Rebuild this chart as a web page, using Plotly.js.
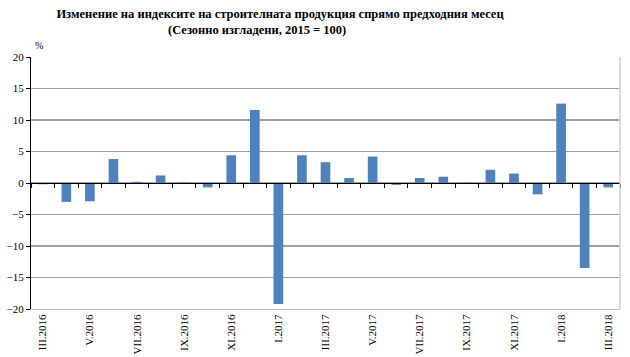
<!DOCTYPE html>
<html><head><meta charset="utf-8">
<script src="https://cdn.plot.ly/plotly-3.0.1.min.js"></script>
<style>body{margin:0;background:#fff}#c{width:630px;height:357px}</style>
</head><body><div id="c"></div>
<script>
const months = ["III.2016","IV.2016","V.2016","VI.2016","VII.2016","VIII.2016","IX.2016","X.2016","XI.2016","XII.2016",
"I.2017","II.2017","III.2017","IV.2017","V.2017","VI.2017","VII.2017","VIII.2017","IX.2017","X.2017","XI.2017","XII.2017",
"I.2018","II.2018","III.2018"];
const changes = [-0.2,-3.0,-2.9,3.8,0.2,1.2,0.1,-0.7,4.4,11.6,-19.2,4.4,3.3,0.8,4.2,-0.3,0.8,1.0,0.05,2.1,1.5,-1.8,12.6,-13.5,-0.7];
const tickLabels = ["III.2016","V.2016","VII.2016","IX.2016","XI.2016","I.2017","III.2017","V.2017","VII.2017","IX.2017","XI.2017","I.2018","III.2018"];
const titleLine1 = "Изменение на индексите на строителната продукция спрямо предходния месец";
const titleLine2 = "(Сезонно изгладени, 2015 = 100)";

const serif = "'Times New Roman', 'Liberation Serif', 'DejaVu Serif', serif";
const nCat = months.length;
const traces = [
  {type:"bar", x:months, y:changes, marker:{color:"#4F81BD"}, width:0.41, hoverinfo:"x+y"},
  {type:"scatter", mode:"markers", x:months, y:months.map(()=>null), xaxis:"x2", yaxis:"y", hoverinfo:"skip", showlegend:false}
];
const layout = {
  width:630, height:357,
  margin:{l:31, r:10, t:57, b:48},
  paper_bgcolor:"#fff", plot_bgcolor:"#fff",
  showlegend:false,
  font:{family:serif, color:"#000"},
  title:{text:titleLine1, font:{family:serif, size:12.5, color:"#000", weight:"bold"}, x:280/630, xanchor:"center", yref:"container", y:1-14/357, yanchor:"middle"},
  xaxis:{type:"category", range:[-0.5, nCat-0.5], tickmode:"array", tickvals:tickLabels, ticktext:tickLabels, tickangle:-90,
         tickfont:{family:serif, size:11, color:"#000"}, ticks:"", showgrid:false,
         showline:true, linecolor:"#bdbdbd", linewidth:1, mirror:false, zeroline:false},
  xaxis2:{type:"category", overlaying:"x", matches:"x", anchor:"free", position:0.5, side:"bottom",
          showline:true, linecolor:"#000", linewidth:1, ticks:"outside", ticklen:4, tickcolor:"#000",
          tickson:"boundaries", dtick:1, showticklabels:false, showgrid:false},
  yaxis:{range:[-20,20], dtick:5, ticks:"outside", ticklen:4, tickcolor:"#000",
         showline:true, linecolor:"#000", linewidth:1,
         gridcolor:"#a0a0a0", gridwidth:1.4, zeroline:false,
         tickfont:{family:serif, size:11, color:"#000"}},
  shapes:[{type:"line", xref:"paper", yref:"paper", x0:1, x1:1, y0:0, y1:1, line:{color:"#cfcfcf", width:1.5}}],
  annotations:[
    {text:titleLine2, xref:"paper", yref:"paper", x:(257-31)/589, y:1, yshift:27, xanchor:"center", yanchor:"middle",
     showarrow:false, font:{family:serif, size:12.5, color:"#000", weight:"bold"}},
    {text:"%", xref:"paper", yref:"paper", x:0, y:1, xshift:2, yshift:4, xanchor:"left", yanchor:"bottom",
     showarrow:false, font:{family:serif, size:10, color:"#000"}}]
};
Plotly.newPlot("c", traces, layout, {displayModeBar:false, staticPlot:true});
</script></body></html>
